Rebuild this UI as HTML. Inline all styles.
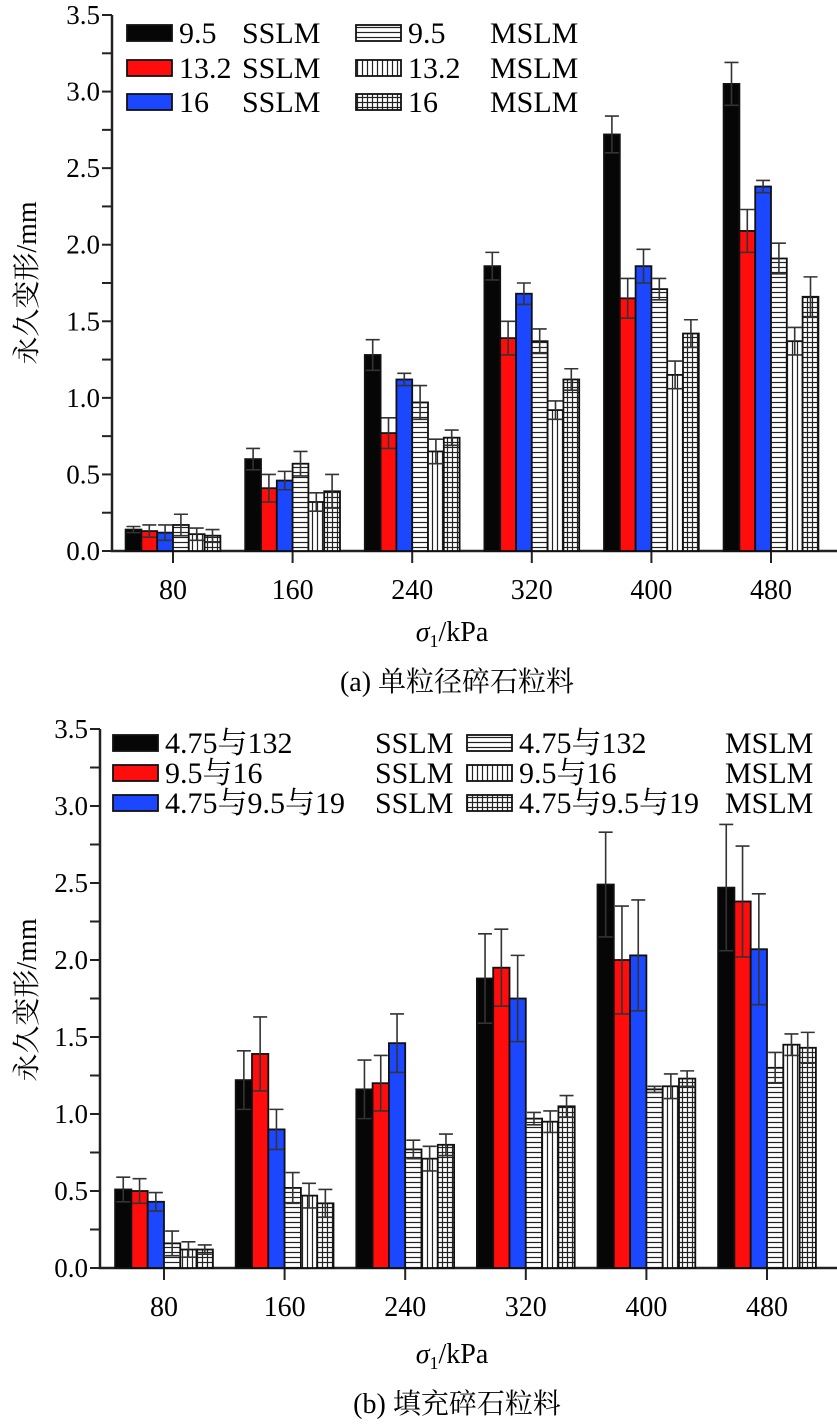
<!DOCTYPE html>
<html><head><meta charset="utf-8"><style>
body{margin:0;background:#fff}
svg text{font-family:"Liberation Serif","Noto Serif CJK SC",serif;fill:#000}
</style></head><body>
<svg id="s" width="837" height="1421" viewBox="0 0 837 1421" xmlns="http://www.w3.org/2000/svg">
<defs>
<pattern id="ph" width="6" height="5" patternUnits="userSpaceOnUse"><rect width="6" height="5" fill="#fff"/><line x1="0" y1="2.5" x2="6" y2="2.5" stroke="#222" stroke-width="1.2"/></pattern>
<pattern id="pv" width="5" height="6" patternUnits="userSpaceOnUse"><rect width="5" height="6" fill="#fff"/><line x1="2.5" y1="0" x2="2.5" y2="6" stroke="#222" stroke-width="1.2"/></pattern>
<pattern id="pg" width="5" height="5" patternUnits="userSpaceOnUse"><rect width="5" height="5" fill="#fff"/><line x1="0" y1="2.5" x2="5" y2="2.5" stroke="#222" stroke-width="1.2"/><line x1="2.5" y1="0" x2="2.5" y2="5" stroke="#222" stroke-width="1.2"/></pattern>
</defs>
</svg>
<script>
const categories=["80","160","240","320","400","480"];
const yTicks=[0,0.5,1,1.5,2,2.5,3,3.5];
const aLabels=["9.5","13.2","16","9.5","13.2","16"];
const a0=[0.14,0.60,1.28,1.86,2.72,3.05];
const a1=[0.13,0.41,0.77,1.39,1.65,2.09];
const a2=[0.12,0.46,1.12,1.68,1.86,2.38];
const a3=[0.17,0.57,0.97,1.37,1.71,1.91];
const a4=[0.11,0.32,0.65,0.92,1.15,1.37];
const a5=[0.10,0.39,0.74,1.12,1.42,1.66];
const ae0=[0.02,0.07,0.10,0.09,0.12,0.14];
const ae1=[0.04,0.09,0.10,0.11,0.13,0.14];
const ae2=[0.05,0.06,0.04,0.07,0.11,0.04];
const ae3=[0.07,0.08,0.11,0.08,0.07,0.10];
const ae4=[0.04,0.06,0.08,0.06,0.09,0.09];
const ae5=[0.04,0.11,0.05,0.07,0.09,0.13];
const bLabels=["4.75与132","9.5与16","4.75与9.5与19","4.75与132","9.5与16","4.75与9.5与19"];
const b0=[0.51,1.22,1.16,1.88,2.49,2.47];
const b1=[0.50,1.39,1.20,1.95,2.00,2.38];
const b2=[0.43,0.90,1.46,1.75,2.03,2.07];
const b3=[0.16,0.52,0.77,0.97,1.16,1.30];
const b4=[0.12,0.47,0.71,0.95,1.18,1.45];
const b5=[0.12,0.42,0.80,1.05,1.23,1.43];
const be0=[0.08,0.19,0.19,0.29,0.34,0.41];
const be1=[0.08,0.24,0.18,0.25,0.35,0.36];
const be2=[0.06,0.13,0.19,0.28,0.36,0.36];
const be3=[0.08,0.10,0.06,0.04,0.02,0.10];
const be4=[0.05,0.08,0.08,0.07,0.08,0.07];
const be5=[0.03,0.09,0.07,0.07,0.05,0.10];

const NS="http://www.w3.org/2000/svg";
const svg=document.getElementById('s');
const fills=["#060606","#ff0d0d","#1a47ff","url(#ph)","url(#pv)","url(#pg)"];
function mk(tag,attrs,parent){const e=document.createElementNS(NS,tag);for(const k in attrs)e.setAttribute(k,attrs[k]);(parent||svg).appendChild(e);return e;}
function txt(x,y,s,size,anchor,parent){const t=mk('text',{x:x,y:y,'font-size':size,'text-anchor':anchor||'start'},parent);t.textContent=s;return t;}

function panel(cfg){
  const g=mk('g',{});
  
  
  const yS=v=>cfg.y0-(v/3.5)*(cfg.y0-cfg.y35);
  const xS=i=>cfg.c0+i*cfg.step;
  const ax=mk('path',{d:`M${cfg.ax},${cfg.y35}V${cfg.y0}H837`,stroke:'#222','stroke-width':2.5,fill:'none'},g);
  
  
  for(let v=0;v<=3.5001;v+=0.25){
    const y=yS(v);
    mk('line',{x1:cfg.ax-10,y1:y,x2:cfg.ax,y2:y,stroke:'#222','stroke-width':2},g);
  }
  yTicks.forEach(v=>{
    const t=txt(cfg.ax-12,yS(v)+9,v.toFixed(1),27,'end',g);
    
    
  });
  categories.forEach((c,i)=>{
    mk('line',{x1:xS(i),y1:cfg.y0,x2:xS(i),y2:cfg.y0+12,stroke:'#222','stroke-width':2},g);
    const t=txt(xS(i),cfg.y0+48,c,28,'middle',g);
    
    
  });
  const bw=cfg.bw;
  cfg.series.forEach((ser,s)=>{
    ser.forEach((v,i)=>{
      const x=xS(i)-3*bw+s*bw;
      const y=yS(v);
      const r=mk('rect',{x:x,y:y,width:bw,height:cfg.y0-y,fill:fills[s],stroke:'#111','stroke-width':1.8},g);
      
      
      const e=cfg.errs[s][i];
      const xc=x+bw/2;
      const eb=mk('path',{d:`M${xc},${yS(v-e)}V${yS(v+e)}M${xc-7},${yS(v+e)}H${xc+7}M${xc-7},${yS(v-e)}H${xc+7}`,stroke:'#333','stroke-width':1.6,fill:'none'},g);
      
      
    });
  });
  const yt=mk('text',{x:0,y:0,'font-size':28,'text-anchor':'middle',transform:`translate(${cfg.ytx},${cfg.yty}) rotate(-90)`},g);
  yt.textContent='永久变形/mm';
  
  
  const xt=mk('text',{x:cfg.xtx,y:cfg.xty,'font-size':28,'text-anchor':'middle'},g);
  xt.innerHTML='<tspan font-style="italic">σ</tspan><tspan font-size="18" dy="6">1</tspan><tspan dy="-6">/kPa</tspan>';
  
  
  const cp=txt(cfg.xtx+5,cfg.capy,cfg.caption,28,'middle',g);
  
  
  cfg.labels.forEach((lab,s)=>{
    const col=s<3?0:1;const row=s%3;
    const sx=cfg.leg.sx[col], cy=cfg.leg.cy[row];
    const le=mk('g',{},g);
    
    
    mk('rect',{x:sx,y:cy-8,width:cfg.leg.sw,height:16,fill:fills[s],stroke:'#111','stroke-width':1.8},le);
    txt(sx+cfg.leg.sw+7,cy+10,lab,30,'start',le);
    txt(cfg.leg.tx[col],cy+10,col===0?'SSLM':'MSLM',30,'start',le);
  });
}
panel({name:'panel-a-single-size',key:'a',ax:112,y0:551,y35:15,c0:173,step:119.6,bw:15.8,
  series:[a0,a1,a2,a3,a4,a5],errs:[ae0,ae1,ae2,ae3,ae4,ae5],labels:aLabels,
  ytx:36,yty:283,xtx:452,xty:641,capy:691,caption:'(a) 单粒径碎石粒料',
  leg:{sx:[127,356],cy:[33,68,102],sw:45,tx:[242,490]}});
panel({name:'panel-b-filled',key:'b',ax:100,y0:1268,y35:729,c0:164,step:120.6,bw:16.3,
  series:[b0,b1,b2,b3,b4,b5],errs:[be0,be1,be2,be3,be4,be5],labels:bLabels,
  ytx:36,yty:1000,xtx:452,xty:1363,capy:1413,caption:'(b) 填充碎石粒料',
  leg:{sx:[113,467],cy:[743,773,803],sw:45,tx:[375,725]}});
</script>
</body></html>
